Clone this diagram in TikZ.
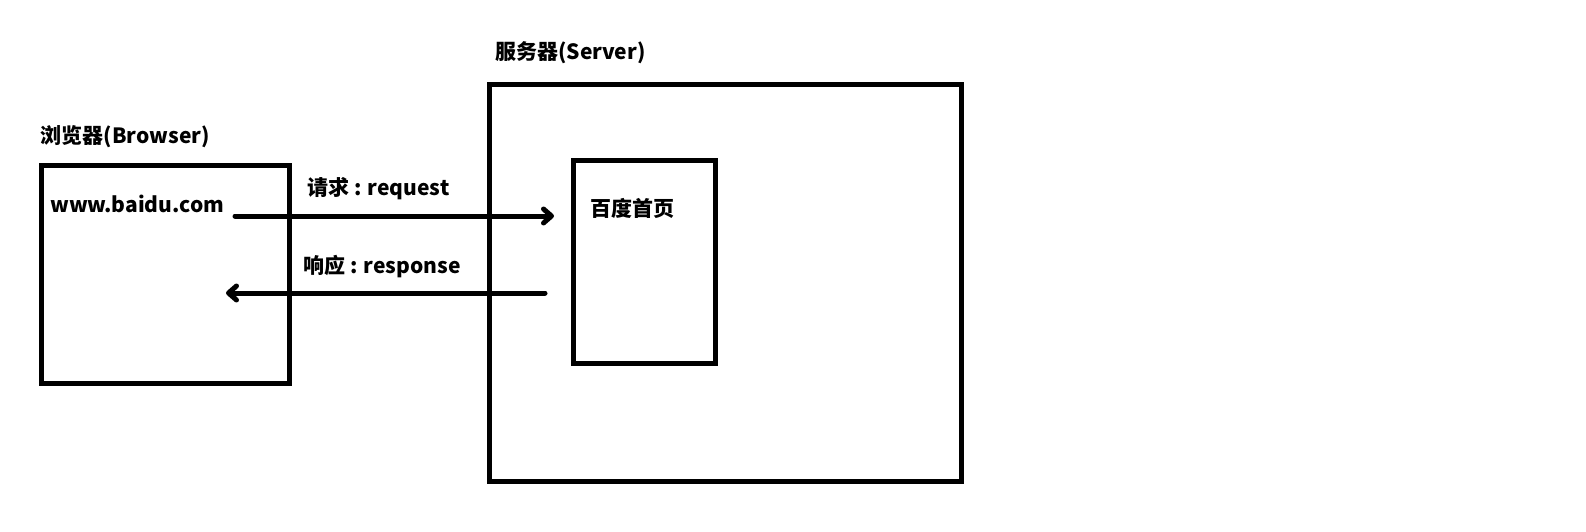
\documentclass[tikz,border=0pt]{standalone}
\usepackage{fontspec}
\setmainfont{Noto Sans CJK SC}
\usetikzlibrary{arrows.meta,positioning}

\begin{document}
\begin{tikzpicture}[x=1pt, y=-1pt, box/.style={draw, line width=5pt, inner sep=0pt, anchor=north west}, lbl/.style={anchor=west, inner sep=0pt, font=\fontsize{21}{25}\selectfont\bfseries}, msg/.style={line width=5pt, line cap=round, -{Straight Barb[length=8pt,width=14pt,round]}}]
\useasboundingbox (0,0) rectangle (1586,532);
% boxes
\node[box, minimum width=247.7, minimum height=218] (browser) at (39.3,163.3) {};
\node[box, minimum width=472, minimum height=396.8] (server) at (487,81.7) {};
\node[box, minimum width=141.6, minimum height=202.2] (page) at (571.2,158.3) {};
% labels
\node[lbl] (browserlbl) at (40.7,137) {浏览器(Browser)};
\node[lbl] (serverlbl) at (495,53) {服务器(Server)};
\node[lbl] (url) at (50,204) {www.baidu.com};
\node[lbl] (pagelbl) at (590,208) {百度首页};
\node[lbl] (reqlbl) at (307,189) {请求 : request};
\node[lbl] (resplbl) at (303,267) {响应 : response};
% messages
\coordinate (reqfrom) at (235,216);
\coordinate (reqto) at (554,216);
\coordinate (respfrom) at (545,293);
\coordinate (respto) at (226,293);
\draw[msg] (reqfrom) -- (reqto);
\draw[msg] (respfrom) -- (respto);
\end{tikzpicture}
\end{document}
